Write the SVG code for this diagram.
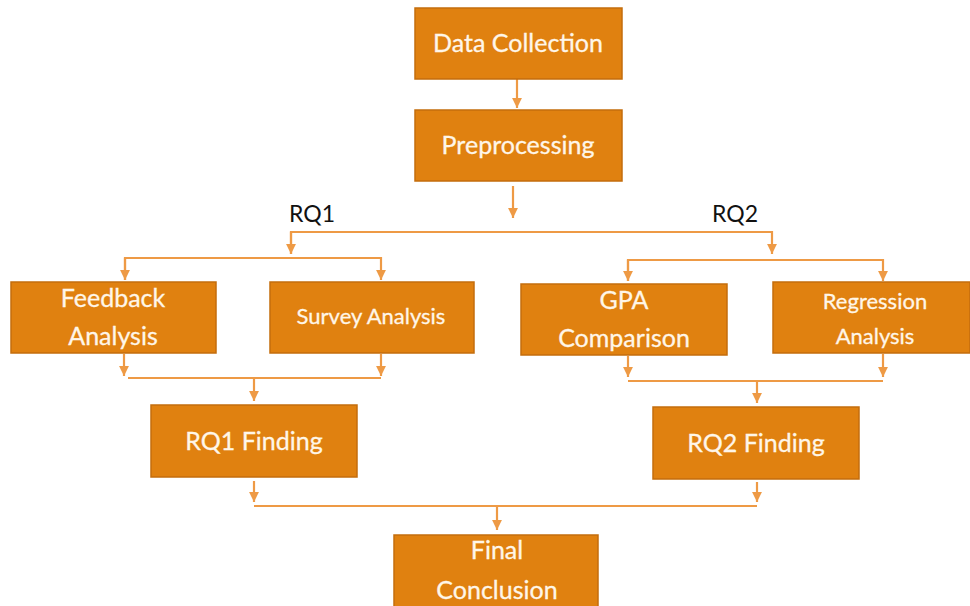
<svg xmlns="http://www.w3.org/2000/svg" width="970" height="606" viewBox="0 0 970 606">
<defs>
<style>
.box{fill:#E08110;stroke:#C46D0C;stroke-width:1.5}
.t{fill:#FFF6E8;font-family:Lato,"Open Sans",sans-serif;font-size:25px;text-anchor:middle;stroke:#FFF6E8;stroke-width:0.3}
.ts{font-size:22px}
.lbl{fill:#111;font-family:Lato,"Liberation Sans",sans-serif;font-size:23px;text-anchor:middle}
.c{fill:none;stroke:#EE9A45;stroke-width:2.2}
</style>
<marker id="ah" viewBox="0 0 10 10" refX="10" refY="5" markerWidth="4.5" markerHeight="4.5" markerUnits="strokeWidth" orient="auto">
<path d="M0,0 L10,5 L0,10 z" fill="#EE9A45"/>
</marker>
</defs>
<rect width="970" height="606" fill="#fff"/>
<g id="connectors">
<line class="c" x1="517" y1="79" x2="517" y2="108" marker-end="url(#ah)"/>
<line class="c" x1="513" y1="186" x2="513" y2="218" marker-end="url(#ah)"/>
<polyline class="c" points="291,254 291,232 772,232 772,254" marker-end="url(#ah)"/>
<line class="c" x1="291" y1="232" x2="291" y2="254" marker-end="url(#ah)"/>
<polyline class="c" points="125,280 125,258 381,258 381,280" marker-end="url(#ah)"/>
<line class="c" x1="125" y1="258" x2="125" y2="280" marker-end="url(#ah)"/>
<polyline class="c" points="628,281 628,260 883,260 883,281" marker-end="url(#ah)"/>
<line class="c" x1="628" y1="260" x2="628" y2="281" marker-end="url(#ah)"/>
<line class="c" x1="124" y1="354" x2="124" y2="376" marker-end="url(#ah)"/>
<line class="c" x1="381" y1="354" x2="381" y2="376" marker-end="url(#ah)"/>
<line class="c" x1="128" y1="378" x2="381" y2="378"/>
<line class="c" x1="254" y1="378" x2="254" y2="401" marker-end="url(#ah)"/>
<line class="c" x1="628" y1="356" x2="628" y2="377" marker-end="url(#ah)"/>
<line class="c" x1="883" y1="354" x2="883" y2="377" marker-end="url(#ah)"/>
<line class="c" x1="628" y1="381" x2="883" y2="381"/>
<line class="c" x1="757" y1="381" x2="757" y2="403" marker-end="url(#ah)"/>
<line class="c" x1="254" y1="481" x2="254" y2="502" marker-end="url(#ah)"/>
<line class="c" x1="757" y1="482" x2="757" y2="502" marker-end="url(#ah)"/>
<line class="c" x1="254" y1="506" x2="757" y2="506"/>
<line class="c" x1="497" y1="506" x2="497" y2="530" marker-end="url(#ah)"/>
</g>
<g id="labels">
<text class="lbl" x="312" y="222">RQ1</text>
<text class="lbl" x="735" y="222">RQ2</text>
</g>
<g id="data-collection">
<rect class="box" x="415" y="8" width="207" height="71"/>
<text class="t" x="518" y="52">Data Collection</text>
</g>
<g id="preprocessing">
<rect class="box" x="415" y="110" width="207" height="71"/>
<text class="t" x="518" y="154">Preprocessing</text>
</g>
<g id="feedback-analysis">
<rect class="box" x="11" y="282" width="205" height="71"/>
<text class="t" x="113" y="307">Feedback</text>
<text class="t" x="113" y="345">Analysis</text>
</g>
<g id="survey-analysis">
<rect class="box" x="270" y="282" width="204" height="71"/>
<text class="t ts" x="371" y="324">Survey Analysis</text>
</g>
<g id="gpa-comparison">
<rect class="box" x="521" y="284" width="206" height="71"/>
<text class="t" x="624" y="309">GPA</text>
<text class="t" x="624" y="347">Comparison</text>
</g>
<g id="regression-analysis">
<rect class="box" x="773" y="282" width="197" height="71"/>
<text class="t ts" x="875" y="309">Regression</text>
<text class="t ts" x="875" y="344">Analysis</text>
</g>
<g id="rq1-finding">
<rect class="box" x="151" y="405" width="206" height="72"/>
<text class="t" x="254" y="450">RQ1 Finding</text>
</g>
<g id="rq2-finding">
<rect class="box" x="653" y="407" width="206" height="72"/>
<text class="t" x="756" y="452">RQ2 Finding</text>
</g>
<g id="final-conclusion">
<rect class="box" x="394" y="535" width="204" height="75"/>
<text class="t" x="497" y="559">Final</text>
<text class="t" x="497" y="599">Conclusion</text>
</g>
</svg>
